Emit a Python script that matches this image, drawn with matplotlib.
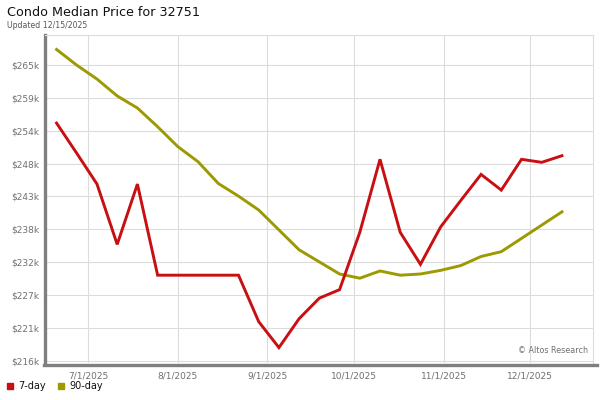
import matplotlib as mpl
mpl.use("Agg")
import matplotlib.pyplot as plt
import pandas as pd

FOUT = "out.png"

RED = "#c80f12"
OLIVE = "#9c9a00"
GRID = "#dcdcdc"
AXIS = "#7f7f7f"

# weekly points, values in $k
DATES = pd.date_range("2025-06-20", periods=26, freq="7D")
DAY7 = [255.6, 250.6, 245.5, 235.5, 245.5, 230.4, 230.4, 230.4, 230.4, 230.4,
        222.7, 218.4, 223.2, 226.6, 228.0, 237.5, 249.6, 237.5, 232.2, 238.4,
        242.8, 247.1, 244.5, 249.6, 249.1, 250.2]
DAY90 = [267.8, 265.2, 262.9, 260.1, 258.1, 255.0, 251.7, 249.2, 245.6, 243.5,
         241.2, 237.9, 234.6, 232.6, 230.6, 229.9, 231.1, 230.4, 230.6, 231.2,
         232.0, 233.5, 234.3, 236.5, 238.7, 240.9]

YTICKS = [216.2 + 5.45 * i for i in range(10)]
YLABELS = ["$216k", "$221k", "$227k", "$232k", "$238k",
           "$243k", "$248k", "$254k", "$259k", "$265k"]
XTICKS = pd.to_datetime(["2025-07-01", "2025-08-01", "2025-09-01",
                         "2025-10-01", "2025-11-01", "2025-12-01"])
XLABELS = ["7/1/2025", "8/1/2025", "9/1/2025", "10/1/2025", "11/1/2025", "12/1/2025"]

mpl.rcParams.update({"font.family": "DejaVu Sans"})

fig = plt.figure(figsize=(6, 4), dpi=100)
ax = fig.add_axes((45 / 600, 1 - 363 / 400, 548 / 600, 328 / 400))

ax.plot(DATES, DAY90, color=OLIVE, lw=2.1, solid_joinstyle="miter", zorder=3)
ax.plot(DATES, DAY7, color=RED, lw=2.1, solid_joinstyle="miter", zorder=4)

ax.set_xlim(pd.Timestamp("2025-06-16"), pd.Timestamp("2025-12-22 18:00"))
ax.set_ylim(215.85, 270.2)

ax.set_yticks(YTICKS)
ax.set_yticklabels(YLABELS)
ax.set_xticks(XTICKS)
ax.set_xticklabels(XLABELS)
ax.tick_params(length=0, labelsize=6.5, labelcolor="#707070", pad=4)
ax.tick_params(axis="x", pad=6)
ax.grid(True, color=GRID, lw=0.8)
ax.set_axisbelow(True)

for side in ("top", "right"):
    ax.spines[side].set_color(GRID)
    ax.spines[side].set_linewidth(0.8)
ax.spines["left"].set_color(AXIS)
ax.spines["left"].set_linewidth(2.4)
ax.spines["bottom"].set_visible(False)

# heavy bottom axis line, runs a bit past the plot area
fig.add_artist(plt.Line2D([44 / 600, 597 / 600], [1 - 365 / 400] * 2,
                          color=AXIS, lw=2.4, transform=fig.transFigure))

ax.text(0.99, 0.025, "© Altos Research", transform=ax.transAxes,
        ha="right", va="bottom", fontsize=5.8, color="#707070")

fig.text(7 / 600, 1 - 13 / 400, "Condo Median Price for 32751",
         fontsize=9.2, va="center", ha="left", color="#111111")
fig.text(7 / 600, 1 - 25 / 400, "Updated 12/15/2025",
         fontsize=5.6, va="center", ha="left", color="#555555")

# legend below the chart
for x0, col, lab in [(7, RED, "7-day"), (58, OLIVE, "90-day")]:
    fig.patches.append(mpl.patches.Rectangle((x0 / 600, 1 - 389 / 400), 6 / 600, 6 / 400,
                                             color=col, transform=fig.transFigure))
    fig.text((x0 + 11) / 600, 1 - 386 / 400, lab, fontsize=7,
             va="center", ha="left", color="#111111")

plt.savefig(FOUT, dpi=100)
